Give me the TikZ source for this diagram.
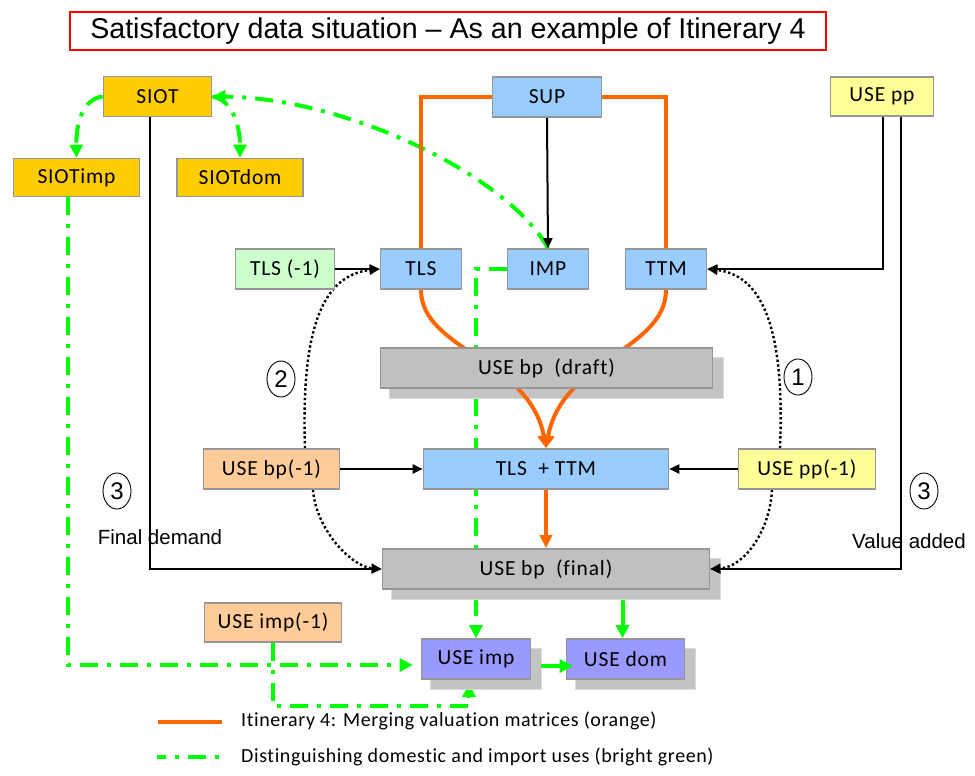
\documentclass[tikz,border=0pt]{standalone}
\usepackage{fontspec}
\setmainfont{Liberation Sans}
\newfontfamily\boxfont[LetterSpace=4,Ligatures=NoCommon]{Carlito}
\newfontfamily\legendfont[LetterSpace=3,Ligatures=NoCommon]{Carlito}
\usetikzlibrary{arrows.meta,calc,shapes.geometric}

\definecolor{gold}{HTML}{FFCC00}
\definecolor{lblue}{HTML}{99CCFF}
\definecolor{lyellow}{HTML}{FFFF99}
\definecolor{lgreen}{HTML}{CCFFCC}
\definecolor{mgray}{HTML}{C0C0C0}
\definecolor{lorange}{HTML}{FFCC99}
\definecolor{lpurple}{HTML}{9999FF}
\definecolor{boxline}{HTML}{969696}
\definecolor{shadowfill}{HTML}{C4C4C4}
\definecolor{shadowline}{HTML}{DADADA}
\definecolor{itorange}{HTML}{FF6600}
\definecolor{bgreen}{HTML}{00FF00}

\pgfdeclarelayer{greenlayer}
\pgfdeclarelayer{shadowlayer}
\pgfdeclarelayer{linelayer}
\pgfsetlayers{greenlayer,shadowlayer,linelayer,main}

% grey drop shadow behind a box node
\newcommand\boxshadow[1]{%
  \begin{pgfonlayer}{shadowlayer}
    \fill[shadowfill, draw=shadowline, line width=1.2pt]
      ($(#1.north west)+(10,10)$) rectangle ($(#1.south east)+(10,10)$);
  \end{pgfonlayer}}

\begin{document}
\begin{tikzpicture}[x=1pt, y=-1pt,
  box/.style={draw=boxline, line width=1.6pt, minimum height=40pt, inner sep=0pt,
    font=\boxfont\fontsize{21.5}{25}\selectfont},
  numcircle/.style={ellipse, draw, line width=0.9pt, minimum width=28pt,
    minimum height=36pt, inner sep=0pt, font=\fontsize{24}{28}\selectfont},
  lbl/.style={font=\fontsize{20.5}{24}\selectfont, inner sep=0pt},
  legendtext/.style={font=\legendfont\fontsize{20}{24}\selectfont, inner sep=0pt, anchor=west},
  blk/.style={black, line width=2pt},
  btip/.style={-{Triangle[length=10pt,width=9pt]}},
  dotl/.style={black, line width=2.4pt, dash pattern=on 2.4pt off 2.4pt},
  orangeline/.style={itorange, line width=4pt},
  otip/.style={-{Triangle[length=13pt,width=12pt]}},
  greenline/.style={bgreen, line width=4pt, dash pattern=on 18pt off 9pt on 4pt off 9pt},
  greensolid/.style={bgreen, line width=4pt},
  gtip/.style={-{Triangle[length=13pt,width=13pt]}}
]
\useasboundingbox (0,0) rectangle (975,776);

% title
\node[draw=red, line width=1.3pt, minimum width=756pt, minimum height=38pt, inner sep=0pt,
  font=\fontsize{28.6}{32}\selectfont] (title) at (448,31)
  {Satisfactory data situation -- As an example of Itinerary 4};

% top row
\node[box, fill=gold, minimum width=108pt] (SIOT) at (157.5,96.5) {SIOT};
\node[box, fill=gold, minimum width=126pt, minimum height=38pt] (SIOTimp) at (76.5,177.5) {SIOTimp};
\node[box, fill=gold, minimum width=126pt, minimum height=38pt] (SIOTdom) at (240,177.5) {SIOTdom};
\node[box, fill=lblue, minimum width=109pt] (SUP) at (547,97) {SUP};
\node[box, fill=lyellow, minimum width=103pt, minimum height=39pt] (USEpp) at (882,96.5) {USE pp};

% second row
\node[box, fill=lgreen, minimum width=99pt] (TLS1) at (285,269) {TLS (-1)};
\node[box, fill=lblue, minimum width=81pt] (TLS) at (421,269) {TLS};
\node[box, fill=lblue, minimum width=81pt] (IMP) at (548,269) {IMP};
\node[box, fill=lblue, minimum width=81pt] (TTM) at (666,269) {TTM};

% use tables
\node[box, fill=mgray, minimum width=332pt] (draft) at (546.5,368) {USE bp\ \ (draft)};
\node[box, fill=lorange, minimum width=136pt] (USEbp1) at (271.5,469) {USE bp(-1)};
\node[box, fill=lblue, minimum width=245pt] (TLSTTM) at (546,469) {TLS\ \ + TTM};
\node[box, fill=lyellow, minimum width=137pt] (USEpp1) at (807,469) {USE pp(-1)};
\node[box, fill=mgray, minimum width=327pt] (final) at (546,569) {USE bp\ \ (final)};
\node[box, fill=lorange, minimum width=137pt, minimum height=39pt] (USEimp1) at (273,622.5) {USE imp(-1)};
\node[box, fill=lpurple, minimum width=109pt] (USEimp) at (476,659) {USE imp};
\node[box, fill=lpurple, minimum width=118pt] (USEdom) at (625.5,659) {USE dom};

\boxshadow{draft}
\boxshadow{final}
\boxshadow{USEimp}
\boxshadow{USEdom}

% step numbers and side labels
\node[numcircle] (n2) at (281,379) {2};
\node[numcircle] (n1) at (798,377) {1};
\node[numcircle] (n3a) at (117,491) {3};
\node[numcircle] (n3b) at (924,491) {3};
\node[lbl] (fd) at (160,537) {Final demand};
\node[lbl] (va) at (909,541) {Value added};

% domestic / import split (bright green)
\begin{pgfonlayer}{greenlayer}
\draw[greenline, gtip] (SIOT.west) .. controls (82,99) and (76,125) .. (SIOTimp.north);
\draw[greenline, gtip] (SIOT.east) .. controls (232,100) and (240,125) .. (SIOTdom.north);
\draw[greenline, gtip] (IMP.north) .. controls (510,178) and (350,98) .. (SIOT.east);
\draw[greenline, gtip] (IMP.west) -| (USEimp.north);
\draw[greenline, gtip] ($(SIOTimp.south)+(-8.5,0)$) |- ($(USEimp.west)+(-8,6)$);
\draw[greenline, gtip] (USEimp1.south) |- ($(USEimp.south)+(-7,26)$) -- ($(USEimp.south)+(-7,4)$);
\end{pgfonlayer}

\begin{pgfonlayer}{linelayer}
% merging valuation matrices (orange)
\draw[orangeline] (SUP.west) -| (TLS.north);
\draw[orangeline] (SUP.east) -| (TTM.north);
\draw[orangeline, otip] (TLS.south) .. controls (421,350) and (530,360) .. (TLSTTM.north);
\draw[orangeline, otip] (TTM.south) .. controls (666,350) and (562,360) .. (TLSTTM.north);
\draw[orangeline, otip] (TLSTTM.south) -- (final.north);
% black flows
\draw[blk, btip] (SUP.south) -- (IMP.north);
\draw[blk, btip] (TLS1.east) -- (TLS.west);
\draw[blk, btip] (USEbp1.east) -- (TLSTTM.west);
\draw[blk, btip] (USEpp1.west) -- (TLSTTM.east);
\draw[blk, btip] ($(SIOT.south)+(-7.5,0)$) |- (final.west);
\draw[blk, btip] ($(USEpp.south)+(1,0)$) |- (TTM.east);
\draw[blk, btip] ($(USEpp.south)+(19,0)$) |- (final.east);
% dotted feedback arcs
\draw[dotl, btip] ($(USEbp1.north)+(33.5,0)$) .. controls (301,330) and (322,275) .. (TLS.west);
\draw[dotl, btip] ($(USEbp1.south)+(41.5,0)$) .. controls (316,530) and (352,567) .. (final.west);
\draw[dotl, btip] ($(USEpp1.north)+(-27,0)$) .. controls (785,330) and (763,275) .. (TTM.east);
\draw[dotl, btip] ($(USEpp1.south)+(-35,0)$) .. controls (770,530) and (745,567) .. (final.east);
\end{pgfonlayer}

% solid green split of the final table
\draw[greensolid, gtip] ($(USEdom.north |- final.south)+(-3,10)$) -- ($(USEdom.north)+(-3,0)$);
\draw[greensolid, gtip] ($(USEimp.east)+(10,7)$) -- ($(USEdom.west)+(7,7)$);

% legend
\coordinate (lo1) at (158,722);
\coordinate (lo2) at (222,722);
\draw[orangeline] (lo1) -- (lo2);
\node[legendtext] (lt1) at (241,721) {Itinerary 4: Merging valuation matrices (orange)};
\coordinate (lg1) at (157,757);
\coordinate (lg2) at (221,757);
\draw[greenline, dash phase=9pt] (lg1) -- (lg2);
\node[legendtext] (lt2) at (241,757) {Distinguishing domestic and import uses (bright green)};
\end{tikzpicture}
\end{document}
